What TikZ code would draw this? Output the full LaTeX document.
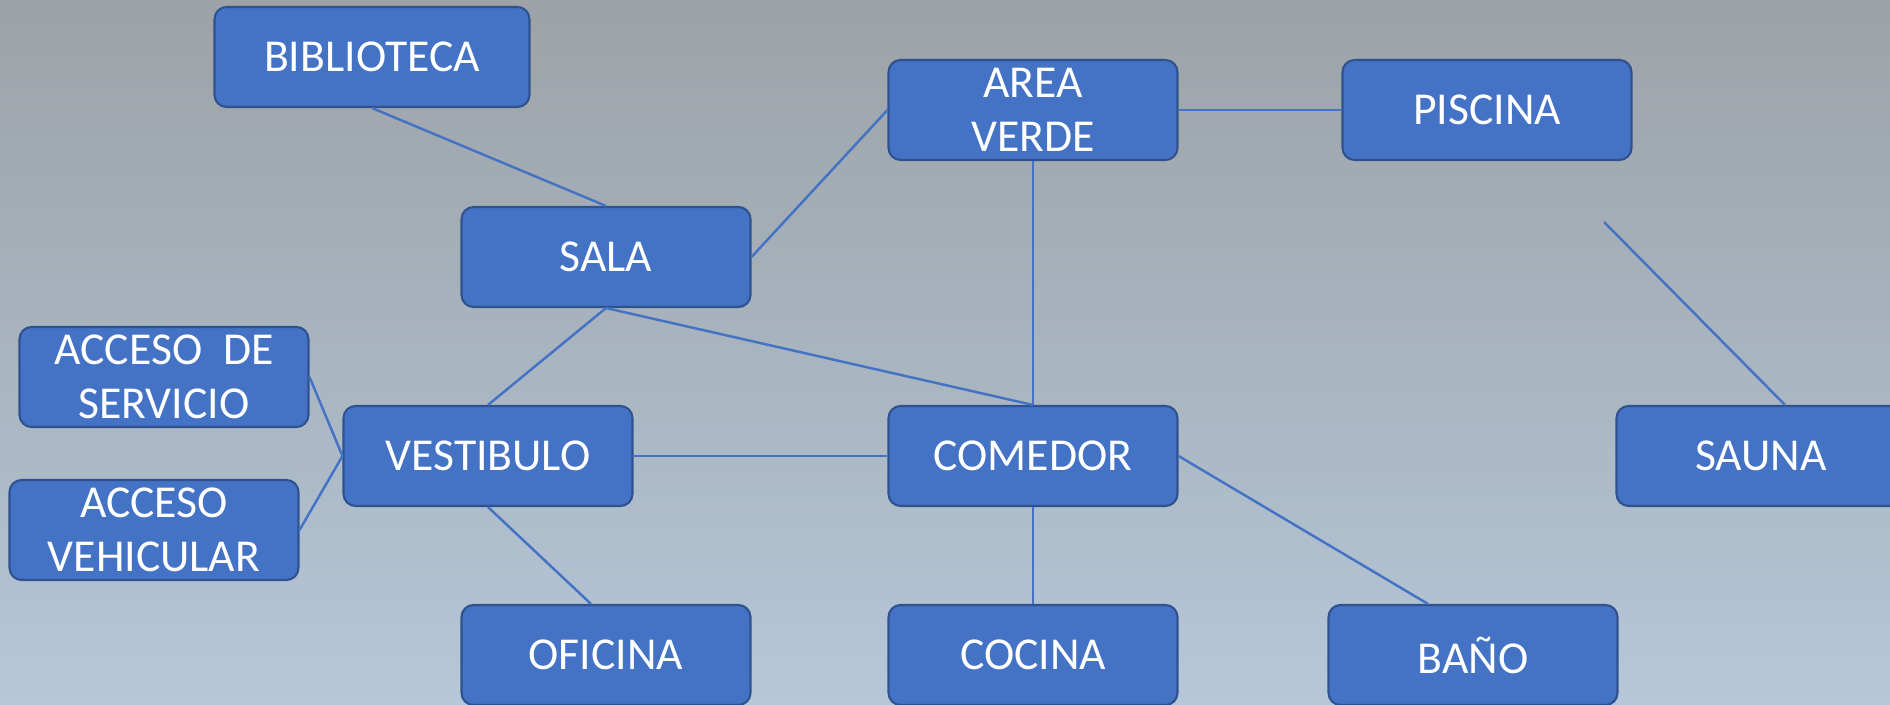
\documentclass[tikz,border=0pt]{standalone}
\usepackage{fontspec}
\setmainfont{Carlito}
\definecolor{boxfill}{HTML}{4472C4}
\definecolor{boxline}{HTML}{2F528F}
\definecolor{bgtop}{HTML}{9DA2A7}
\definecolor{bgmid}{HTML}{A8B4BF}
\definecolor{bgbot}{HTML}{B5C7D9}
\begin{document}
\begin{tikzpicture}[x=0.02cm,y=-0.02cm,
  room/.style={draw=boxline,line width=1.2pt,fill=boxfill,rounded corners=0.24cm,
    minimum width=5.78cm,minimum height=2cm,inner sep=0pt,align=center,
    text=white,font=\fontsize{26}{31}\selectfont},
  link/.style={draw=boxfill,line width=1.4pt}]
\useasboundingbox (0,0) rectangle (1890,705);
\shade[top color=bgtop,bottom color=bgbot,middle color=bgmid] (0,0) rectangle (1890,705);
\node[room,minimum width=6.3cm] (bib) at (372,57) {BIBLIOTECA};
\node[room] (sala) at (606,257) {SALA};
\node[room] (av) at (1033,110) {AREA\\VERDE};
\node[room] (pis) at (1487,110) {PISCINA};
\node[room] (ads) at (164,377) {ACCESO\ \ DE\\SERVICIO};
\node[room] (avh) at (154,530) {ACCESO\\VEHICULAR};
\node[room] (ves) at (488,456) {VESTIBULO};
\node[room] (com) at (1033,456) {COMEDOR};
\node[room] (sau) at (1761,456) {SAUNA};
\node[room] (ofi) at (606,655) {OFICINA};
\node[room] (coc) at (1033,655) {COCINA};
\node[room] (ban) at (1473,655) {BAÑO};
\coordinate (free) at (1604,222);
\draw[link] (bib.south) -- (sala.north);
\draw[link] (sala.east) -- (av.west);
\draw[link] (av.east) -- (pis.west);
\draw[link] (av.south) -- (com.north);
\draw[link] (sala.south) -- (com.north);
\draw[link] (sala.south) -- (ves.north);
\draw[link] (ads.east) -- (ves.west);
\draw[link] (avh.east) -- (ves.west);
\draw[link] (ves.east) -- (com.west);
\draw[link] (ves.south) -- ([xshift=-0.3cm]ofi.north);
\draw[link] (com.south) -- (coc.north);
\draw[link] (com.east) -- ([xshift=-0.9cm]ban.north);
\draw[link] (free) -- ([xshift=0.48cm]sau.north);
\end{tikzpicture}
\end{document}
